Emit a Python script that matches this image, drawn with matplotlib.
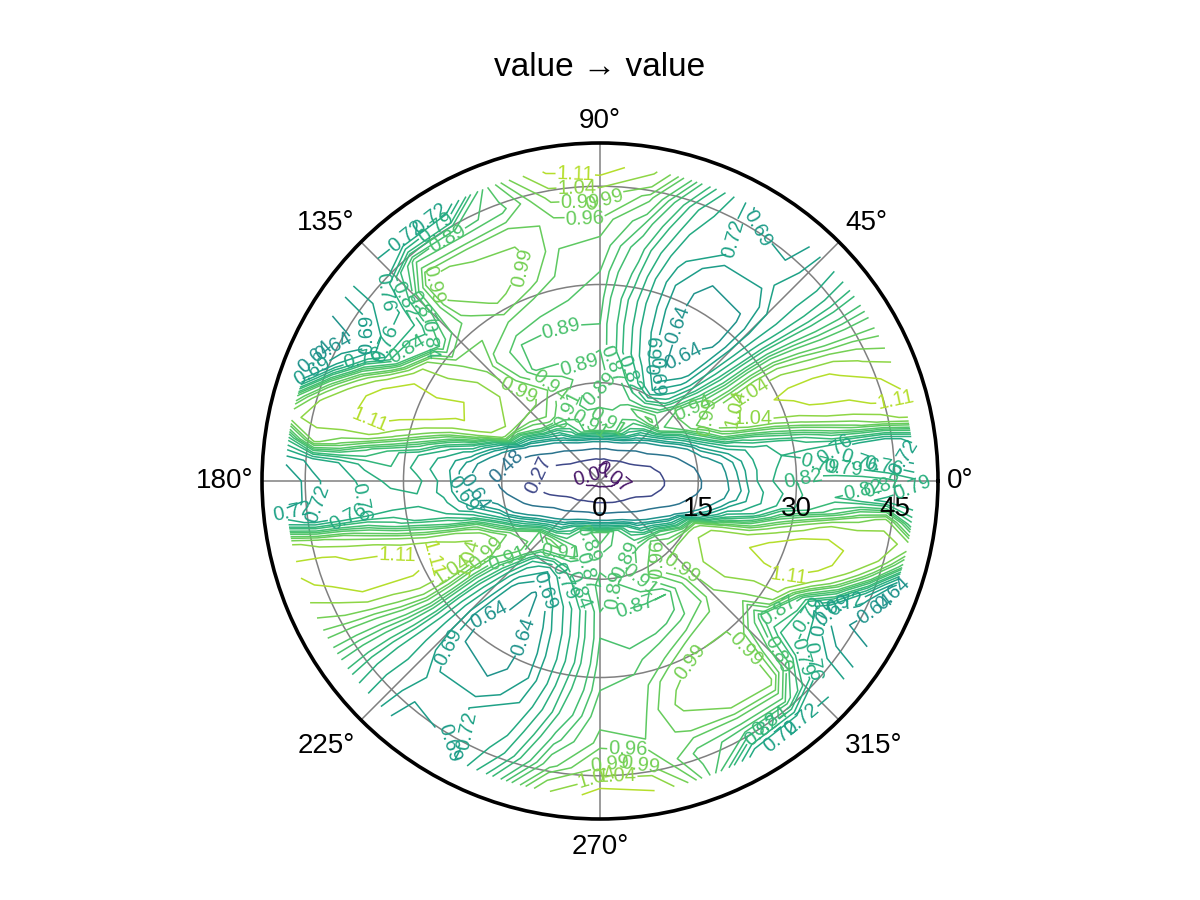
import numpy as np
import matplotlib
matplotlib.use("Agg")
import matplotlib.pyplot as plt

plt.rcParams['font.family'] = ['Liberation Sans', 'DejaVu Sans']

# angle samples (deg), denser close to the horizontal strip
theta_half = [0, 4, 8, 12, 16, 20, 25, 30, 40, 50, 60, 70, 80, 90, 100, 110, 120, 130, 140, 150, 156, 160, 164, 168, 172, 176]
radius = [0, 2, 4, 8, 12, 16, 20, 24, 28, 32, 36, 40, 44, 48]

levels = [0.07, 0.27, 0.48, 0.64, 0.69, 0.72, 0.76, 0.79, 0.82, 0.84, 0.87, 0.89, 0.91, 0.94, 0.96, 0.99, 1.04, 1.11]
r_ticks = [0, 15, 30, 45]
theta_ticks = [0, 45, 90, 135, 180, 225, 270, 315]
theta_align = [("left", "center"), ("left", "bottom"), ("center", "bottom"), ("right", "bottom"),
               ("right", "center"), ("right", "top"), ("center", "top"), ("left", "top")]

# values per radius, upper half then lower half
v00 = [.03] * 52
v02 = [.05,.05,.05,.06,.06,.07,.08,.09,.10,.11,.12,.12,.12,.12,.12,.12,.11,.10,.09,.08,.07,.07,.06,.06,.05,.05,
       .05,.05,.05,.06,.06,.07,.08,.09,.10,.11,.12,.12,.12,.12,.12,.12,.11,.10,.09,.08,.07,.07,.06,.06,.05,.05]
v04 = [.10,.11,.11,.12,.13,.15,.17,.19,.23,.27,.31,.33,.33,.35,.33,.32,.30,.27,.23,.19,.16,.15,.13,.12,.11,.11,
       .10,.11,.11,.12,.14,.15,.18,.20,.23,.28,.31,.34,.34,.35,.34,.32,.29,.26,.22,.19,.17,.15,.13,.12,.11,.10]
v08 = [.21,.22,.23,.25,.27,.32,.39,.46,.55,.68,.80,.88,.92,.93,.92,.88,.80,.68,.55,.45,.36,.31,.27,.25,.23,.22,
       .21,.22,.23,.24,.28,.33,.40,.47,.56,.67,.79,.87,.91,.93,.91,.87,.79,.66,.54,.44,.37,.31,.26,.24,.22,.21]
v12 = [.34,.35,.36,.41,.46,.52,.62,.72,.90,.95,.93,.90,.88,.88,.88,.90,.93,.95,.90,.72,.60,.52,.46,.41,.36,.35,
       .34,.35,.37,.42,.47,.53,.63,.73,.91,.96,.94,.90,.87,.88,.87,.89,.92,.94,.89,.71,.60,.52,.45,.40,.36,.34]
v16 = [.50,.52,.55,.62,.68,.74,.85,.94,.95,.80,.72,.80,.87,.90,.90,.92,.96,1.0,1.02,1.03,.98,.76,.66,.60,.54,.51,
       .49,.51,.56,.63,.69,.75,.86,.95,.96,.79,.72,.79,.86,.90,.89,.91,.95,.99,1.01,1.02,.97,.75,.65,.59,.53,.50]
v20 = [.66,.67,.68,.72,.80,.92,1.01,1.02,.88,.70,.64,.74,.82,.89,.88,.88,.88,.96,1.04,1.09,1.09,.98,.83,.74,.68,.66,
       .65,.66,.68,.73,.81,.93,1.02,1.03,.87,.70,.63,.73,.81,.89,.87,.87,.87,.95,1.03,1.08,1.08,.97,.82,.73,.67,.65]
v24 = [.76,.76,.77,.78,.86,.99,1.06,1.04,.84,.66,.62,.71,.81,.89,.89,.89,.89,.93,1.03,1.11,1.12,1.05,.93,.80,.75,.74,
       .75,.75,.77,.79,.87,1.0,1.07,1.05,.83,.66,.62,.70,.80,.89,.88,.88,.90,.94,1.02,1.10,1.10,1.04,.92,.79,.75,.75]
v28 = [.81,.80,.79,.80,.92,1.04,1.10,1.06,.82,.63,.60,.70,.81,.90,.91,.92,.94,.96,.98,1.08,1.14,1.12,1.02,.90,.79,.78,
       .80,.79,.79,.81,.93,1.05,1.11,1.07,.81,.63,.60,.69,.80,.90,.90,.93,.97,.98,.97,1.07,1.14,1.12,1.03,.91,.80,.79]
v32 = [.83,.80,.78,.84,.98,1.09,1.13,1.05,.80,.63,.61,.70,.83,.91,.93,.97,1.0,.95,.87,1.09,1.14,1.14,1.10,.98,.83,.82,
       .80,.78,.79,.85,.99,1.10,1.14,1.06,.80,.64,.61,.69,.82,.91,.92,.98,1.01,1.00,.88,1.08,1.14,1.14,1.11,.99,.84,.83]
v36 = [.84,.78,.76,.90,1.04,1.13,1.13,1.00,.78,.66,.66,.73,.85,.93,.94,1.00,1.01,.99,.80,.86,1.10,1.14,1.13,1.07,.88,.80,
       .77,.76,.77,.91,1.05,1.14,1.13,1.01,.79,.67,.66,.72,.84,.93,.93,1.00,1.02,1.01,.82,.85,1.09,1.14,1.13,1.08,.89,.82]
v40 = [.84,.76,.74,.95,1.08,1.14,1.10,.96,.77,.71,.72,.76,.89,.96,.95,.98,.98,1.0,.76,.70,.94,1.08,1.10,1.06,.95,.76,
       .74,.74,.75,.96,1.09,1.14,1.11,.97,.78,.71,.72,.75,.88,.95,.94,.97,.99,1.01,.78,.69,.93,1.07,1.10,1.07,.96,.80]
v44 = [.83,.73,.73,1.0,1.12,1.13,1.03,.94,.77,.69,.70,.79,.95,1.01,1.0,.9,.88,.9,.74,.64,.72,.92,1.06,1.06,1.0,.73,
       .71,.71,.74,1.0,1.13,1.14,1.04,.95,.78,.69,.70,.78,.93,1.0,.99,.9,.88,.89,.74,.64,.71,.91,1.05,1.07,1.01,.78]
v48 = [.80,.70,.78,1.06,1.12,1.08,.99,.93,.78,.67,.68,.85,1.05,1.16,1.12,.93,.72,.70,.74,.62,.62,.66,.90,1.03,.84,.70,
       .66,.66,.79,1.06,1.13,1.09,1.0,.94,.79,.67,.68,.84,1.03,1.15,1.11,.92,.73,.70,.73,.62,.61,.65,.89,1.02,.85,.76]

# spots for the contour labels, in figure pixels
label_spots = [
    (758, 227), (730, 237), (693, 328), (660, 355), (687, 362), (660, 370), (630, 373), (613, 363),
    (693, 407), (710, 417), (733, 407), (753, 417), (752, 392), (897, 405), (863, 453), (833, 452),
    (902, 453), (800, 470), (817, 470), (843, 470), (883, 467), (607, 203), (610, 393), (610, 417),
    (575, 180), (577, 188), (580, 202), (585, 222), (423, 208), (407, 237), (437, 228), (447, 237),
    (528, 270), (435, 282), (387, 290), (403, 300), (423, 307), (332, 343), (313, 340), (307, 363),
    (363, 357), (370, 333), (387, 343), (407, 347), (430, 340), (565, 343), (580, 368), (550, 383),
    (513, 400), (367, 423), (507, 467), (535, 472), (570, 410), (587, 423),
    (293, 513), (322, 507), (347, 510), (363, 503), (463, 493), (477, 490), (397, 555), (447, 563),
    (433, 552), (463, 557), (483, 547), (507, 557), (560, 550), (583, 543), (593, 570), (543, 590),
    (567, 580), (578, 590), (490, 617), (513, 633), (450, 647), (477, 730), (450, 742),
    (687, 557), (653, 558), (620, 557), (640, 580), (635, 605), (620, 593), (788, 572), (692, 662),
    (730, 663), (780, 653), (800, 657), (813, 660), (780, 613), (807, 613), (833, 610), (847, 607),
    (827, 617), (877, 612), (897, 597), (803, 720), (787, 743), (770, 720), (760, 727), (628, 743),
    (610, 757), (640, 763), (617, 780), (610, 773), (863, 490), (883, 490), (913, 487),
    (592, 470), (612, 472),
]

z = np.array([v00, v02, v04, v08, v12, v16, v20, v24, v28, v32, v36, v40, v44, v48])
z = np.hstack([z, z[:, :1]])  # close the circle at 360

theta_deg = theta_half + [a + 180 for a in theta_half] + [360]
T, R = np.meshgrid(np.deg2rad(theta_deg), radius)

r_max = 51.6
fig = plt.figure(figsize=(12, 9), dpi=100)
ax = fig.add_axes([262 / 1200, 81 / 900, 676 / 1200, 676 / 900], projection="polar")
ax.set_rlim(0, r_max)

cs = ax.contour(T, R, z, levels=levels, cmap="viridis", vmin=0, vmax=1.25, linewidths=1.1)

# pixel spots -> (theta, r) around the plot centre
px_per_unit = 338 / r_max
manual = [(np.arctan2(480 - py, px - 600) % (2 * np.pi), np.hypot(px - 600, py - 480) / px_per_unit)
          for px, py in label_spots]
ax.clabel(cs, fmt="%.2f", fontsize=14.5, inline=True, inline_spacing=1, manual=manual)
ax.set_rlim(0, r_max)

ax.set_axisbelow(True)
ax.grid(True, color="#808080", linewidth=1.1)
ax.spines["polar"].set_linewidth(2.6)

ax.set_xticks(np.deg2rad(theta_ticks))
ax.set_xticklabels([])
for a, (ha, va) in zip(theta_ticks, theta_align):
    ang = np.deg2rad(a)
    off_y = 6.5 * np.sin(ang) - (4.5 if va == "top" else 0)  # the lower labels sit a little further out
    ax.annotate(f"{a}°", xy=(ang, r_max), xytext=(6.5 * np.cos(ang), off_y),
                textcoords="offset points", ha=ha, va=va, fontsize=20, annotation_clip=False)

ax.set_yticks(r_ticks)
ax.set_yticklabels([])
for r in r_ticks:
    ax.annotate(str(r), xy=(0, r), xytext=(0, -10.5), textcoords="offset points",
                ha="center", va="top", fontsize=20)

fig.text(0.5, 1 - 68 / 900, "value → value", ha="center", va="center", fontsize=24)

fig.savefig("out.png", dpi=100)
